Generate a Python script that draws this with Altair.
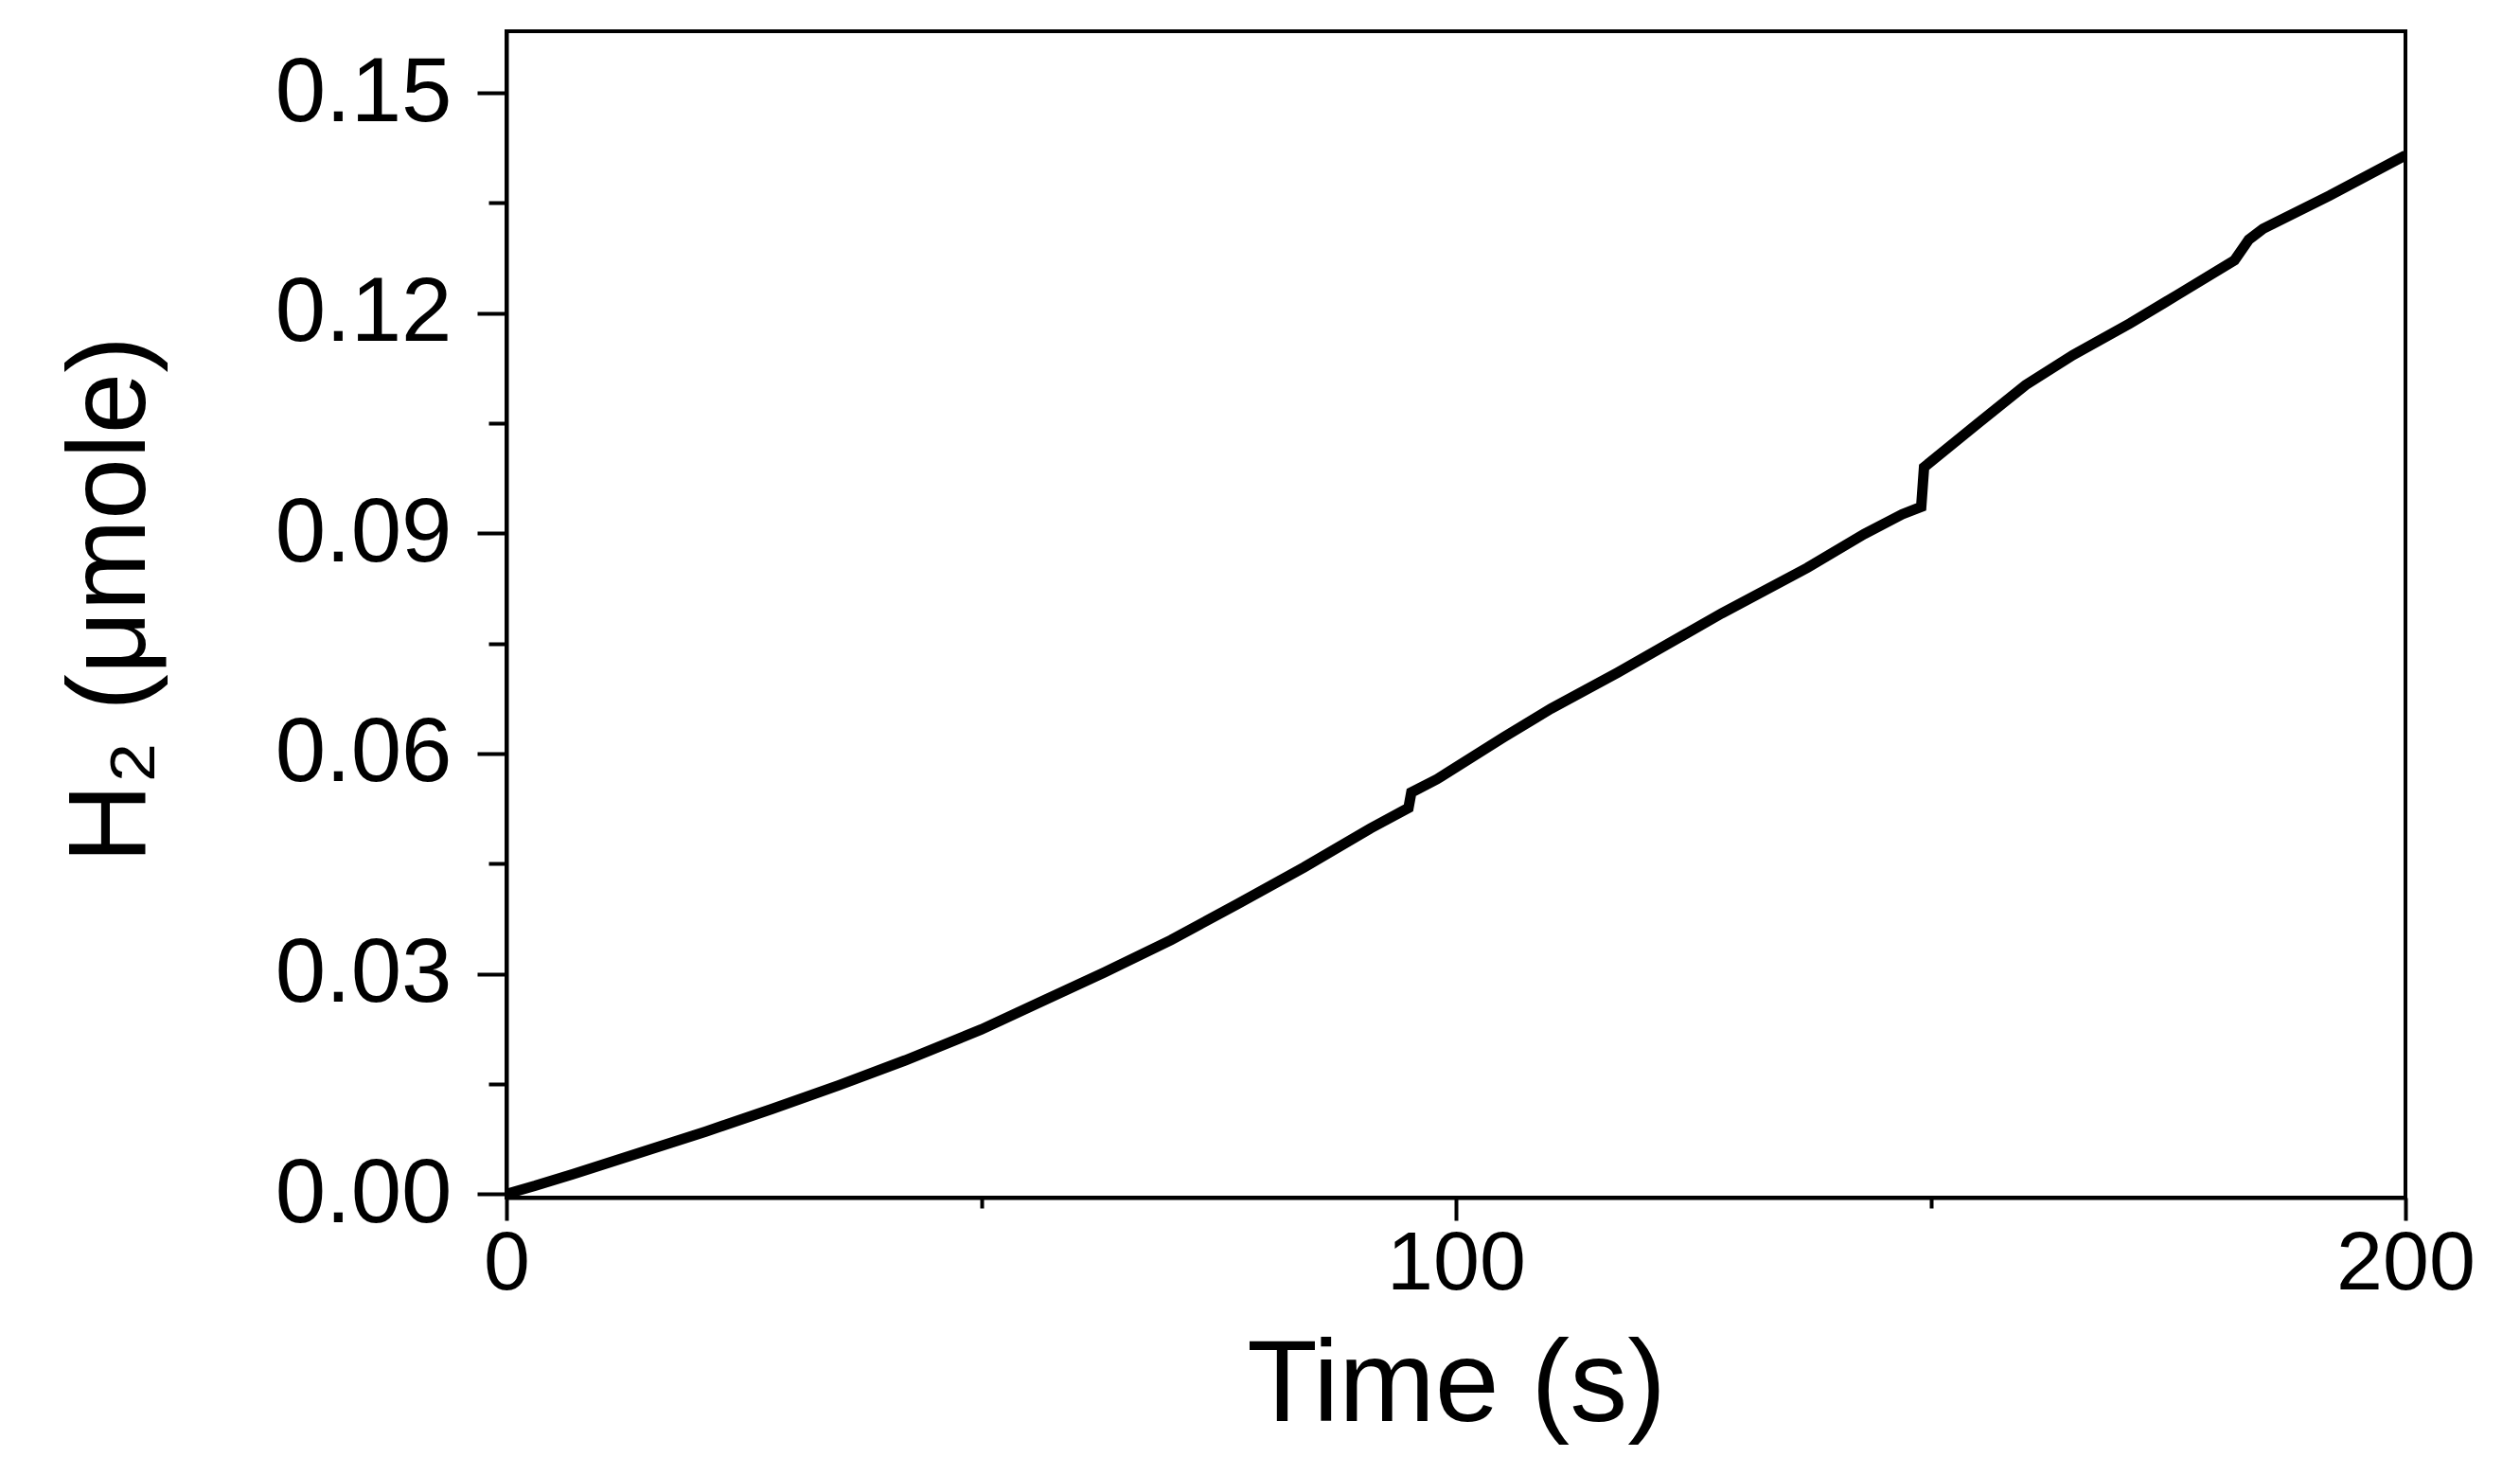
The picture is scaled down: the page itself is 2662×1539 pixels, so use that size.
import altair as alt
import pandas as pd

# Time (s) and H2 (µmole)
time_s = [0, 3, 7, 14, 21, 28, 35, 42, 50, 56, 63, 70, 77, 84, 91, 95, 95.3, 98,
          105, 110, 117, 128, 137, 143, 147, 149, 149.3, 155, 160, 165, 171, 176,
          182, 183.5, 185, 192, 200]
h2_umole = [0.0000, 0.0011, 0.0027, 0.0056, 0.0085, 0.0116, 0.0148, 0.0182, 0.0224,
            0.0260, 0.0302, 0.0346, 0.0395, 0.0445, 0.0498, 0.0526, 0.0547, 0.0565,
            0.0622, 0.0661, 0.0710, 0.0791, 0.0853, 0.0899, 0.0926, 0.0936, 0.0990,
            0.1050, 0.1102, 0.1143, 0.1186, 0.1225, 0.1272, 0.1300, 0.1315, 0.1360,
            0.1415]

x_major = [0, 100, 200]
x_minor = [50, 150]
y_major = [0.0, 0.03, 0.06, 0.09, 0.12, 0.15]
y_minor = [0.015, 0.045, 0.075, 0.105, 0.135]

df = pd.DataFrame({"t": time_s, "v": h2_umole})

FONT = "Liberation Sans"
W, H = 2006, 1232

xscale = alt.Scale(domain=[0, 200], nice=False, zero=False)
yscale = alt.Scale(domain=[-0.0005, 0.1584], nice=False, zero=False)

x_axis_major = alt.Axis(
    values=x_major, format="d", orient="bottom",
    tickSize=24, tickWidth=4, tickColor="black",
    domainColor="black", domainWidth=4,
    labelFont=FONT, labelFontSize=88, labelColor="black", labelLimit=0,
    labelPadding=2, labelFlush=False, labelOverlap=False,
    title="Time (s)", titleFont=FONT, titleFontSize=122, titleFontWeight="normal",
    titleColor="black", titleX=W / 2, titleY=235, titleBaseline="alphabetic",
    titleAlign="center", grid=False,
)
y_axis_major = alt.Axis(
    values=y_major, format=".2f", orient="left",
    tickSize=31, tickWidth=4, tickColor="black",
    domainColor="black", domainWidth=4,
    labelFont=FONT, labelFontSize=96, labelColor="black", labelLimit=0,
    labelPadding=27, labelFlush=False, labelOverlap=False,
    title="H₂ (μmole)", titleFont=FONT, titleFontSize=116, titleFontWeight="normal",
    titleColor="black", titleX=-383, titleY=600, titleAngle=270,
    titleBaseline="alphabetic", titleAlign="center", grid=False,
)
x_axis_minor = alt.Axis(
    values=x_minor, orient="bottom", tickSize=11, tickWidth=4, tickColor="black",
    domain=False, labels=False, title="", grid=False,
)
y_axis_minor = alt.Axis(
    values=y_minor, orient="left", tickSize=19, tickWidth=4, tickColor="black",
    domain=False, labels=False, title="", grid=False,
)

base = alt.Chart(df)

curve = base.mark_line(color="black", strokeWidth=11, clip=True).encode(
    x=alt.X("t:Q", scale=xscale, axis=x_axis_major),
    y=alt.Y("v:Q", scale=yscale, axis=y_axis_major),
)

minor = base.mark_line(opacity=0).encode(
    x=alt.X("t:Q", scale=xscale, axis=x_axis_minor),
    y=alt.Y("v:Q", scale=yscale, axis=y_axis_minor),
)

chart = (
    alt.layer(curve, minor)
    .resolve_axis(x="independent", y="independent")
    .properties(
        width=W, height=H,
        autosize=alt.AutoSizeParams(type="none"),
        padding={"left": 527, "top": 25, "right": 110, "bottom": 266},
        background="white",
    )
    .configure_view(stroke="black", strokeWidth=4)
)

chart.save("out.html", embed_options={"renderer": "svg", "actions": False})
